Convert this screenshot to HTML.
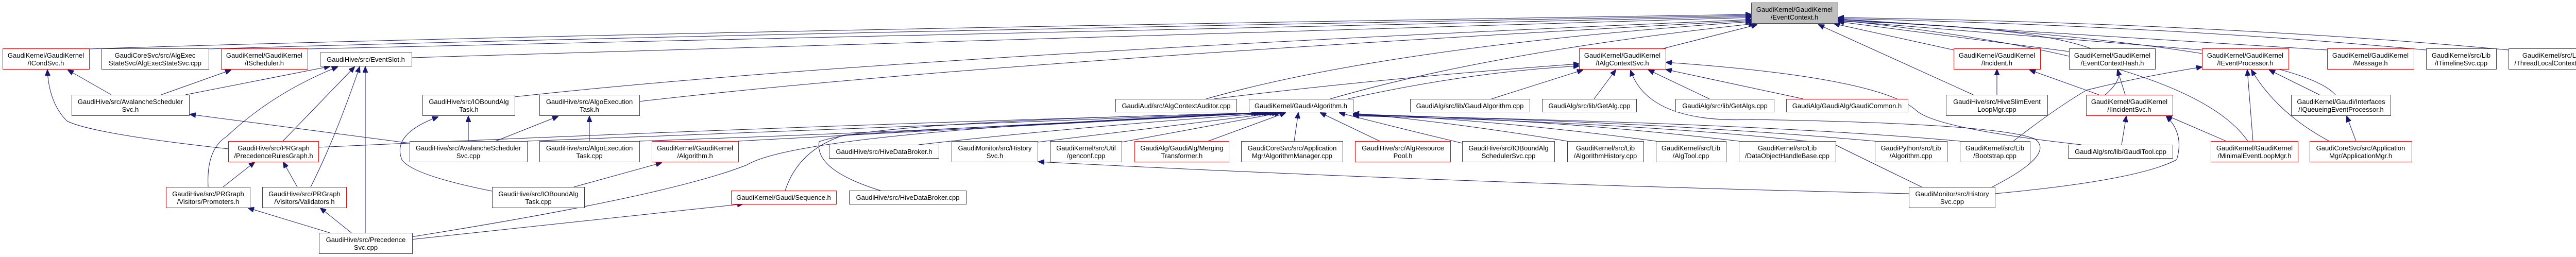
<!DOCTYPE html>
<html><head><meta charset="utf-8">
<style>
html,body{margin:0;padding:0;background:#fff;width:5043px;height:499px;overflow:hidden}
svg{display:block}
text{font-family:"Liberation Sans",sans-serif;font-size:13px;fill:#000;text-anchor:middle}
.n{fill:#fff;stroke:#404040;stroke-width:1}
.r{fill:#fff;stroke:#ff0000;stroke-width:1}
.g{fill:#bfbfbf;stroke:#404040;stroke-width:1}
.e{fill:none;stroke:#191970;stroke-width:1}
</style></head><body>
<svg width="5043" height="499" viewBox="0 0 5043 499" xmlns="http://www.w3.org/2000/svg">
<defs>
<marker id="a" markerWidth="12" markerHeight="10" refX="11" refY="5" orient="auto" markerUnits="userSpaceOnUse">
<path d="M0,0 L12,5 L0,10 z" fill="#191970" stroke="#191970"/>
</marker>
</defs>

<g class="e" marker-end="url(#a)">
<!-- to EventContext -->
<path d="M173,95 Q1200,62 3399,28"/>
<path d="M405,95 Q1300,68 3399,30"/>
<path d="M597,95 Q1400,75 3399,32"/>
<path d="M799,112 Q1600,88 3399,34"/>
<path d="M999,188 Q1700,110 3399,38"/>
<path d="M1241,197 Q1900,120 3399,40"/>
<path d="M2341,192 Q2700,90 3399,42"/>
<path d="M2582,192 Q2900,100 3405,46"/>
<path d="M3225,95 L3410,48"/>
<path d="M3830,184 L3530,48"/>
<path d="M3792,97 L3560,46"/>
<path d="M4016,100 L3568,42"/>
<path d="M4274,97 L3568,40"/>
<path d="M4517,97 L3568,38"/>
<path d="M4709,97 Q4200,50 3568,36"/>
<path d="M4869,97 Q4300,45 3568,34"/>
<path d="M4533,184 Q4450,90 3568,37"/>
<path d="M4363,274 Q4250,110 3568,39"/>
<path d="M4049,210 Q4300,60 3568,41"/>
<!-- to IAlgContextSvc -->
<path d="M2356,192 Q2700,150 3065,124"/>
<path d="M2616,192 Q2850,140 3065,128"/>
<path d="M2895,192 L3072,136"/>
<path d="M3094,192 L3136,136"/>
<path d="M3318,192 L3200,136"/>
<path d="M3500,192 L3234,135"/>
<path d="M4040,281 Q3760,250 3720,215 Q3650,150 3234,121"/>
<path d="M3867,363 Q3990,300 3950,270 Q3880,240 3400,232 Q3200,240 3165,137"/>
<!-- right cluster -->
<path d="M3876,184 L3876,135"/>
<path d="M4074,184 L3940,136"/>
<path d="M4125,184 L4110,136"/>
<path d="M4118,281 L4127,226"/>
<path d="M3908,274 Q3990,210 4050,175 Q4150,150 4274,130"/>
<path d="M4373,274 L4362,136"/>
<path d="M4521,274 Q4420,220 4370,136"/>
<path d="M4502,184 L4405,136"/>
<path d="M4573,274 L4555,226"/>
<path d="M4321,274 L4205,224"/>
<path d="M3872,376 Q4150,350 4225,310 Q4240,260 4205,226"/>
<!-- left cluster -->
<path d="M216,184 L132,136"/>
<path d="M313,184 L448,136"/>
<path d="M360,184 L640,129"/>
<path d="M443,289 Q180,260 130,235 Q95,200 92,136"/>
<path d="M549,274 L688,130"/>
<path d="M404,363 Q400,290 440,265 Q530,180 655,130"/>
<path d="M603,363 Q650,270 698,130"/>
<path d="M433,363 L494,315"/>
<path d="M577,363 L550,315"/>
<path d="M640,452 L482,404"/>
<path d="M682,452 L622,404"/>
<path d="M709,452 L709,130"/>
<path d="M795,278 L369,222"/>
<path d="M955,371 Q800,340 780,310 Q760,260 850,227"/>
<path d="M909,274 L909,226"/>
<path d="M962,274 L1083,226"/>
<path d="M1144,274 L1144,226"/>
<path d="M1114,363 L1284,316"/>
<path d="M798,465 L1442,396"/>
<!-- to Gaudi/Algorithm.h -->
<path d="M618,286 Q1500,245 2440,219"/>
<path d="M1023,274 Q1700,250 2445,219"/>
<path d="M1241,274 Q1800,255 2450,219"/>
<path d="M1433,274 Q1900,250 2455,219"/>
<path d="M798,460 Q1300,380 1450,320 Q1560,255 2460,219"/>
<path d="M1524,370 Q1550,290 1640,262 Q2000,240 2465,219"/>
<path d="M1709,370 Q1580,330 1590,275 Q1700,235 2470,219"/>
<path d="M1783,281 Q2100,245 2475,219"/>
<path d="M2014,276 Q2300,240 2480,219"/>
<path d="M2177,276 L2485,219"/>
<path d="M2345,274 L2495,219"/>
<path d="M2512,274 L2520,219"/>
<path d="M2678,274 L2563,219"/>
<path d="M2838,278 Q2700,245 2600,219"/>
<path d="M3042,274 Q2800,235 2627,220"/>
<path d="M3214,274 Q2900,232 2627,221"/>
<path d="M3375,274 Q3000,230 2627,222"/>
<path d="M3639,274 Q3200,235 2627,223"/>
<path d="M3804,274 Q3400,238 2627,224"/>
<path d="M3730,363 Q3600,300 3560,280 Q3200,238 2627,225"/>
<path d="M3705,376 Q2800,355 2016,314"/>
</g>

<!-- nodes -->
<rect class="g" x="3399.5" y="5.5" width="168" height="40"/><text x="3483" y="23">GaudiKernel/GaudiKernel</text><text x="3483" y="38">/EventContext.h</text>

<rect class="r" x="5.5" y="94.5" width="168" height="40"/><text x="89" y="112">GaudiKernel/GaudiKernel</text><text x="89" y="127">/ICondSvc.h</text>
<rect class="n" x="197.5" y="94.5" width="208" height="40"/><text x="301" y="112">GaudiCoreSvc/src/AlgExec</text><text x="301" y="127">StateSvc/AlgExecStateSvc.cpp</text>
<rect class="r" x="429.5" y="94.5" width="168" height="40"/><text x="513" y="112">GaudiKernel/GaudiKernel</text><text x="513" y="127">/IScheduler.h</text>
<rect class="n" x="621.5" y="102.5" width="178" height="26"/><text x="710" y="120">GaudiHive/src/EventSlot.h</text>
<rect class="r" x="3065.5" y="94.5" width="168" height="40"/><text x="3149" y="112">GaudiKernel/GaudiKernel</text><text x="3149" y="127">/IAlgContextSvc.h</text>
<rect class="r" x="3792.5" y="94.5" width="168" height="40"/><text x="3876" y="112">GaudiKernel/GaudiKernel</text><text x="3876" y="127">/Incident.h</text>
<rect class="n" x="4016.5" y="94.5" width="167" height="40"/><text x="4100" y="112">GaudiKernel/GaudiKernel</text><text x="4100" y="127">/EventContextHash.h</text>
<rect class="r" x="4274.5" y="94.5" width="168" height="40"/><text x="4358" y="112">GaudiKernel/GaudiKernel</text><text x="4358" y="127">/IEventProcessor.h</text>
<rect class="r" x="4517.5" y="94.5" width="168" height="40"/><text x="4601" y="112">GaudiKernel/GaudiKernel</text><text x="4601" y="127">/Message.h</text>
<rect class="n" x="4709.5" y="94.5" width="136" height="40"/><text x="4777" y="112">GaudiKernel/src/Lib</text><text x="4777" y="127">/ITimelineSvc.cpp</text>
<rect class="n" x="4869.5" y="94.5" width="168" height="40"/><text x="4953" y="112">GaudiKernel/src/Lib</text><text x="4953" y="127">/ThreadLocalContext.cpp</text>

<rect class="n" x="139.5" y="184.5" width="228" height="40"/><text x="253" y="202">GaudiHive/src/AvalancheScheduler</text><text x="253" y="217">Svc.h</text>
<rect class="n" x="820.5" y="184.5" width="179" height="40"/><text x="910" y="202">GaudiHive/src/IOBoundAlg</text><text x="910" y="217">Task.h</text>
<rect class="n" x="1047.5" y="184.5" width="194" height="40"/><text x="1144" y="202">GaudiHive/src/AlgoExecution</text><text x="1144" y="217">Task.h</text>
<rect class="n" x="3777.5" y="184.5" width="197" height="40"/><text x="3876" y="202">GaudiHive/src/HiveSlimEvent</text><text x="3876" y="217">LoopMgr.cpp</text>
<rect class="r" x="4049.5" y="184.5" width="168" height="40"/><text x="4133" y="202">GaudiKernel/GaudiKernel</text><text x="4133" y="217">/IIncidentSvc.h</text>
<rect class="n" x="4447.5" y="184.5" width="193" height="40"/><text x="4544" y="202">GaudiKernel/Gaudi/Interfaces</text><text x="4544" y="217">/IQueueingEventProcessor.h</text>

<rect class="n" x="2165.5" y="192.5" width="235" height="25"/><text x="2283" y="210">GaudiAud/src/AlgContextAuditor.cpp</text>
<rect class="n" x="2424.5" y="192.5" width="202" height="25"/><text x="2525" y="210">GaudiKernel/Gaudi/Algorithm.h</text>
<rect class="n" x="2737.5" y="192.5" width="232" height="25"/><text x="2853" y="210">GaudiAlg/src/lib/GaudiAlgorithm.cpp</text>
<rect class="n" x="2993.5" y="192.5" width="183" height="25"/><text x="3085" y="210">GaudiAlg/src/lib/GetAlg.cpp</text>
<rect class="n" x="3252.5" y="192.5" width="191" height="25"/><text x="3348" y="210">GaudiAlg/src/lib/GetAlgs.cpp</text>
<rect class="r" x="3467.5" y="192.5" width="236" height="25"/><text x="3585" y="210">GaudiAlg/GaudiAlg/GaudiCommon.h</text>

<rect class="r" x="443.5" y="274.5" width="175" height="40"/><text x="531" y="292">GaudiHive/src/PRGraph</text><text x="531" y="307">/PrecedenceRulesGraph.h</text>
<rect class="n" x="795.5" y="274.5" width="228" height="40"/><text x="909" y="292">GaudiHive/src/AvalancheScheduler</text><text x="909" y="307">Svc.cpp</text>
<rect class="n" x="1047.5" y="274.5" width="194" height="40"/><text x="1144" y="292">GaudiHive/src/AlgoExecution</text><text x="1144" y="307">Task.cpp</text>
<rect class="r" x="1265.5" y="274.5" width="168" height="40"/><text x="1349" y="292">GaudiKernel/GaudiKernel</text><text x="1349" y="307">/Algorithm.h</text>
<rect class="n" x="1847.5" y="274.5" width="167" height="40"/><text x="1931" y="292">GaudiMonitor/src/History</text><text x="1931" y="307">Svc.h</text>
<rect class="n" x="2038.5" y="274.5" width="139" height="40"/><text x="2108" y="292">GaudiKernel/src/Util</text><text x="2108" y="307">/genconf.cpp</text>
<rect class="r" x="2202.5" y="274.5" width="183" height="40"/><text x="2294" y="292">GaudiAlg/GaudiAlg/Merging</text><text x="2294" y="307">Transformer.h</text>
<rect class="n" x="2409.5" y="274.5" width="197" height="40"/><text x="2508" y="292">GaudiCoreSvc/src/Application</text><text x="2508" y="307">Mgr/AlgorithmManager.cpp</text>
<rect class="r" x="2630.5" y="274.5" width="185" height="40"/><text x="2723" y="292">GaudiHive/src/AlgResource</text><text x="2723" y="307">Pool.h</text>
<rect class="n" x="2838.5" y="274.5" width="179" height="40"/><text x="2928" y="292">GaudiHive/src/IOBoundAlg</text><text x="2928" y="307">SchedulerSvc.cpp</text>
<rect class="n" x="3042.5" y="274.5" width="148" height="40"/><text x="3116" y="292">GaudiKernel/src/Lib</text><text x="3116" y="307">/AlgorithmHistory.cpp</text>
<rect class="n" x="3214.5" y="274.5" width="136" height="40"/><text x="3282" y="292">GaudiKernel/src/Lib</text><text x="3282" y="307">/AlgTool.cpp</text>
<rect class="n" x="3375.5" y="274.5" width="188" height="40"/><text x="3469" y="292">GaudiKernel/src/Lib</text><text x="3469" y="307">/DataObjectHandleBase.cpp</text>
<rect class="n" x="3639.5" y="274.5" width="140" height="40"/><text x="3709" y="292">GaudiPython/src/Lib</text><text x="3709" y="307">/Algorithm.cpp</text>
<rect class="n" x="3804.5" y="274.5" width="136" height="40"/><text x="3872" y="292">GaudiKernel/src/Lib</text><text x="3872" y="307">/Bootstrap.cpp</text>
<rect class="r" x="4291.5" y="274.5" width="169" height="40"/><text x="4376" y="292">GaudiKernel/GaudiKernel</text><text x="4376" y="307">/MinimalEventLoopMgr.h</text>
<rect class="r" x="4483.5" y="274.5" width="198" height="40"/><text x="4582" y="292">GaudiCoreSvc/src/Application</text><text x="4582" y="307">Mgr/ApplicationMgr.h</text>

<rect class="n" x="1609.5" y="281.5" width="213" height="26"/><text x="1716" y="299">GaudiHive/src/HiveDataBroker.h</text>
<rect class="n" x="4014.5" y="281.5" width="203" height="26"/><text x="4116" y="299">GaudiAlg/src/lib/GaudiTool.cpp</text>

<rect class="r" x="322.5" y="363.5" width="163" height="40"/><text x="404" y="381">GaudiHive/src/PRGraph</text><text x="404" y="396">/Visitors/Promoters.h</text>
<rect class="r" x="509.5" y="363.5" width="163" height="40"/><text x="591" y="381">GaudiHive/src/PRGraph</text><text x="591" y="396">/Visitors/Validators.h</text>
<rect class="n" x="955.5" y="363.5" width="179" height="40"/><text x="1045" y="381">GaudiHive/src/IOBoundAlg</text><text x="1045" y="396">Task.cpp</text>
<rect class="n" x="3705.5" y="363.5" width="167" height="40"/><text x="3789" y="381">GaudiMonitor/src/History</text><text x="3789" y="396">Svc.cpp</text>

<rect class="r" x="1419.5" y="370.5" width="204" height="26"/><text x="1521" y="388">GaudiKernel/Gaudi/Sequence.h</text>
<rect class="n" x="1648.5" y="370.5" width="227" height="26"/><text x="1762" y="388">GaudiHive/src/HiveDataBroker.cpp</text>

<rect class="n" x="619.5" y="452.5" width="181" height="40"/><text x="710" y="470">GaudiHive/src/Precedence</text><text x="710" y="485">Svc.cpp</text>
</svg>
</body></html>
